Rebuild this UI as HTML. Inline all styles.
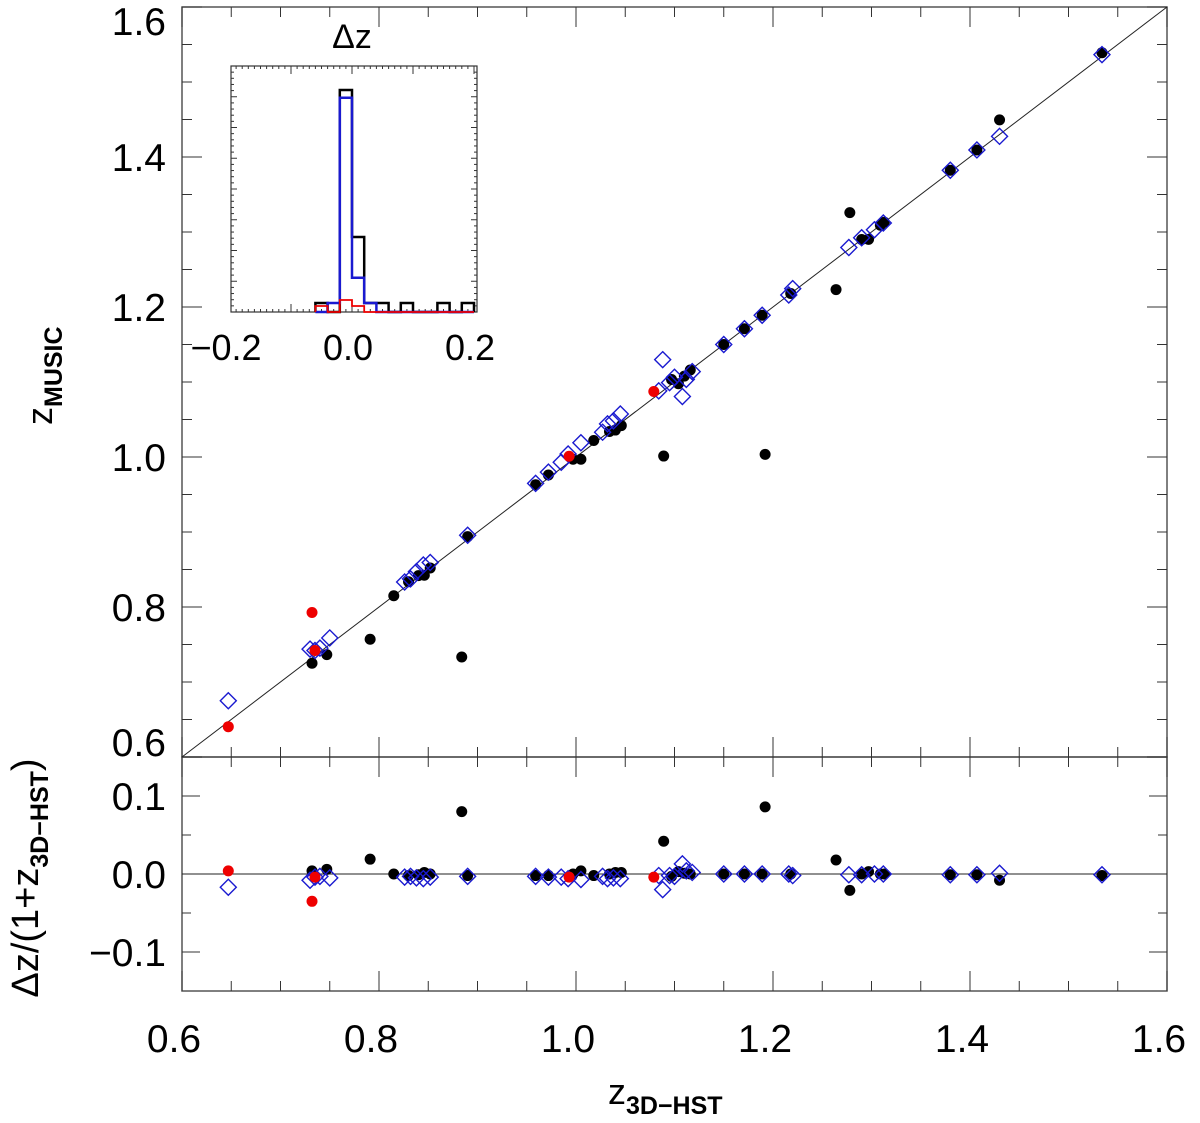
<!DOCTYPE html>
<html><head><meta charset="utf-8"><style>
html,body{margin:0;padding:0;background:#fff;}
svg text{font-family:"Liberation Sans",sans-serif;fill:#000;}
</style></head><body>
<svg id="c" width="1200" height="1118" viewBox="0 0 1200 1118" xmlns="http://www.w3.org/2000/svg"></svg>
<script>
// ---- data ----
const blackZh=[0.732,0.747,0.791,0.815,0.830,0.840,0.846,0.852,0.884,0.890,0.959,0.972,0.997,1.005,1.018,1.034,1.040,1.046,1.089,1.097,1.104,1.110,1.116,1.150,1.171,1.192,1.189,1.218,1.264,1.278,1.290,1.297,1.309,1.313,1.380,1.407,1.430,1.534];
const blackRes=[0.004,0.006,0.019,0,-0.002,-0.001,0.002,0,0.080,-0.002,-0.002,-0.002,0,0.004,-0.002,0,0.002,0.002,0.042,-0.003,0.003,0.001,0,0,0,0.086,0,0,0.018,-0.021,0,0.003,0,0,-0.001,-0.001,-0.008,-0.002];
const blueZh=[0.647,0.730,0.735,0.740,0.750,0.826,0.832,0.838,0.845,0.852,0.890,0.959,0.972,0.985,0.992,1.005,1.027,1.032,1.038,1.045,1.084,1.088,1.095,1.100,1.108,1.112,1.118,1.150,1.171,1.189,1.216,1.220,1.277,1.290,1.303,1.312,1.380,1.407,1.430,1.534];
const blueRes=[-0.017,-0.008,-0.004,-0.003,-0.005,-0.004,-0.003,-0.005,-0.006,-0.004,-0.003,-0.003,-0.004,-0.004,-0.006,-0.007,-0.003,-0.006,-0.005,-0.006,-0.002,-0.02,-0.002,-0.003,0.013,0.004,0.002,0,0,0,0,-0.002,-0.001,-0.001,0,0,-0.001,-0.001,0.001,-0.001];
const redZh=[0.647,0.735,0.732,0.993,1.079];
const redRes=[0.004,-0.004,-0.035,-0.004,-0.004];
// inset histogram: bins starting at -0.06, width 0.02
const histEdges=[-0.06,-0.04,-0.02,0,0.02,0.04,0.06,0.08,0.10,0.12,0.14,0.16,0.18];
const histBlack=[1.5,0,37,12.5,1.5,1.5,0,1.5,0,0,1.5,0,1.5];
const histBlue=[0,1.5,35.7,5.7,1.5,0,0,0,0,0,0,0,0];
const histRed=[1,0,2,1,0,0,0,0,0,0,0,0,0];
const xTicks=[0.6,0.8,1.0,1.2,1.4,1.6];
const yTicksMain=[0.6,0.8,1.0,1.2,1.4,1.6];
const yTicksRes=[-0.1,0.0,0.1];
const insetTicks=[-0.2,0.0,0.2];

const NS="http://www.w3.org/2000/svg";
const svg=document.getElementById('c');
function el(t,a,p){const e=document.createElementNS(NS,t);for(const k in a)e.setAttribute(k,a[k]);(p||svg).appendChild(e);return e;}
const L=182,R=1167,T=7,MB=757,B=991;
const X=v=>L+(v-0.6)*(R-L);
const Ym=v=>MB-(v-0.6)*750;
const Yr=v=>874-v*780;
const IX=v=>352+v*610, IB=312, IY=c=>IB-c*6;
const FS=39;

let f=el('rect',{x:L,y:T,width:R-L,height:MB-T,fill:'none',stroke:'#555','stroke-width':1.5});

f=el('rect',{x:L,y:MB,width:R-L,height:B-MB,fill:'none',stroke:'#555','stroke-width':1.5});


for(let i=0;i<=20;i++){const v=0.6+i*0.05,x=X(v),maj=i%4==0,len=maj?20:10;
 el('line',{x1:x,y1:T,x2:x,y2:T+len,stroke:'#333'});el('line',{x1:x,y1:MB,x2:x,y2:MB-len,stroke:'#333'});
 el('line',{x1:x,y1:MB,x2:x,y2:MB+len,stroke:'#333'});el('line',{x1:x,y1:B,x2:x,y2:B-len,stroke:'#333'});}
xTicks.forEach(v=>{const t=el('text',{x:X(v)-8,y:1052,'font-size':FS,'font-weight':'500','text-anchor':'middle'});t.textContent=v.toFixed(1);
 });
for(let i=0;i<=20;i++){const v=0.6+i*0.05,y=Ym(v),maj=i%4==0,len=maj?20:10;
 el('line',{x1:L,y1:y,x2:L+len,y2:y,stroke:'#333'});el('line',{x1:R,y1:y,x2:R-len,y2:y,stroke:'#333'});}
yTicksMain.forEach(v=>{let y=Ym(v)+14;if(v>=1.59)y=35;if(v<=0.61)y=756;
 const t=el('text',{x:166,y:y,'font-size':FS,'font-weight':'500','text-anchor':'end'});t.textContent=v.toFixed(1);
 });
[-0.1,-0.05,0,0.05,0.1].forEach((v,i)=>{const y=Yr(v),len=i%2==0?18:9;
 el('line',{x1:L,y1:y,x2:L+len,y2:y,stroke:'#333'});el('line',{x1:R,y1:y,x2:R-len,y2:y,stroke:'#333'});});
yTicksRes.forEach(v=>{const t=el('text',{x:166,y:Yr(v)+14,'font-size':FS,'font-weight':'500','text-anchor':'end'});t.textContent=(v<0?'\u2212':'')+Math.abs(v).toFixed(1);
 });

let ln=el('line',{x1:X(0.6),y1:Ym(0.6),x2:X(1.6),y2:Ym(1.6),stroke:'#222','stroke-width':1});

ln=el('line',{x1:L,y1:Yr(0),x2:R,y2:Yr(0),stroke:'#222','stroke-width':1});


function zm(zh,r){return zh-r*(1+zh);}
function dot(cx,cy,col,name){const c=el('circle',{cx:cx,cy:cy,r:5.5,fill:col});
 }
function dia(cx,cy,name){const s=8;const p=el('polygon',{points:`${cx},${cy-s} ${cx+s},${cy} ${cx},${cy+s} ${cx-s},${cy}`,fill:'none',stroke:'#1a1ad0','stroke-width':1.4});
 }
blackZh.forEach((z,i)=>{dot(X(z),Ym(zm(z,blackRes[i])),'#000','black-point');dot(X(z),Yr(blackRes[i]),'#000','black-residual');});
blueZh.forEach((z,i)=>{dia(X(z),Ym(zm(z,blueRes[i])),'blue-diamond');dia(X(z),Yr(blueRes[i]),'blue-residual');});
redZh.forEach((z,i)=>{dot(X(z),Ym(zm(z,redRes[i])),'#e00','red-point');dot(X(z),Yr(redRes[i]),'#e00','red-residual');});

let t=el('text',{x:0,y:0,'font-size':36,transform:'translate(52,425) rotate(-90)'});
t.innerHTML='z<tspan font-size="25" font-weight="bold" dy="10">MUSIC</tspan>';

t=el('text',{x:0,y:0,'font-size':38,'text-anchor':'middle',transform:'translate(38,878) rotate(-90)'});
t.innerHTML='\u0394z/(1+z<tspan font-size="25" font-weight="bold" dy="10">3D\u2212HST</tspan><tspan dy="-10">)</tspan>';

t=el('text',{x:608,y:1104,'font-size':36});
t.innerHTML='z<tspan font-size="25" font-weight="bold" dy="10">3D\u2212HST</tspan>';


const g=el('g',{});
el('rect',{x:231,y:66,width:246,height:246,fill:'#fff',stroke:'#333','stroke-width':1.2},g);
for(let i=0;i<=40;i++){const v=-0.2+i*0.01,x=IX(v);if(x<231||x>477)continue;const len=i%10==0?8:3;
 el('line',{x1:x,y1:66,x2:x,y2:66+len,stroke:'#333'},g);el('line',{x1:x,y1:312,x2:x,y2:312-len,stroke:'#333'},g);}
for(let i=1;i<40;i++){const y=66+i*6.15,len=i%5==0?6:3;
 el('line',{x1:231,y1:y,x2:231+len,y2:y,stroke:'#333'},g);el('line',{x1:477,y1:y,x2:477-len,y2:y,stroke:'#333'},g);}
function hist(vals,col,w,name){let d=`M${IX(histEdges[0])},${IB}`;
 vals.forEach((c,i)=>{const x0=IX(histEdges[i]),x1=IX(histEdges[i]+0.02);d+=` L${x0},${IY(c)} L${x1},${IY(c)}`;});
 d+=` L${IX(histEdges[histEdges.length-1]+0.02)},${IB}`;
 const p=el('path',{d:d,fill:'none',stroke:col,'stroke-width':w},g);}
hist(histBlack,'#000',2.5,'histogram-black');hist(histBlue,'#1a1ad0',2.5,'histogram-blue');hist(histRed,'#e00',1.8,'histogram-red');
insetTicks.forEach(v=>{const tt=el('text',{x:IX(v)-4,y:360,'font-size':36,'font-weight':'500','text-anchor':'middle'},g);tt.textContent=(v<0?'\u2212':'')+Math.abs(v).toFixed(1);
 });
t=el('text',{x:352,y:48,'font-size':34,'font-weight':'500','text-anchor':'middle'},g);t.textContent='\u0394z';

</script>
</body></html>
